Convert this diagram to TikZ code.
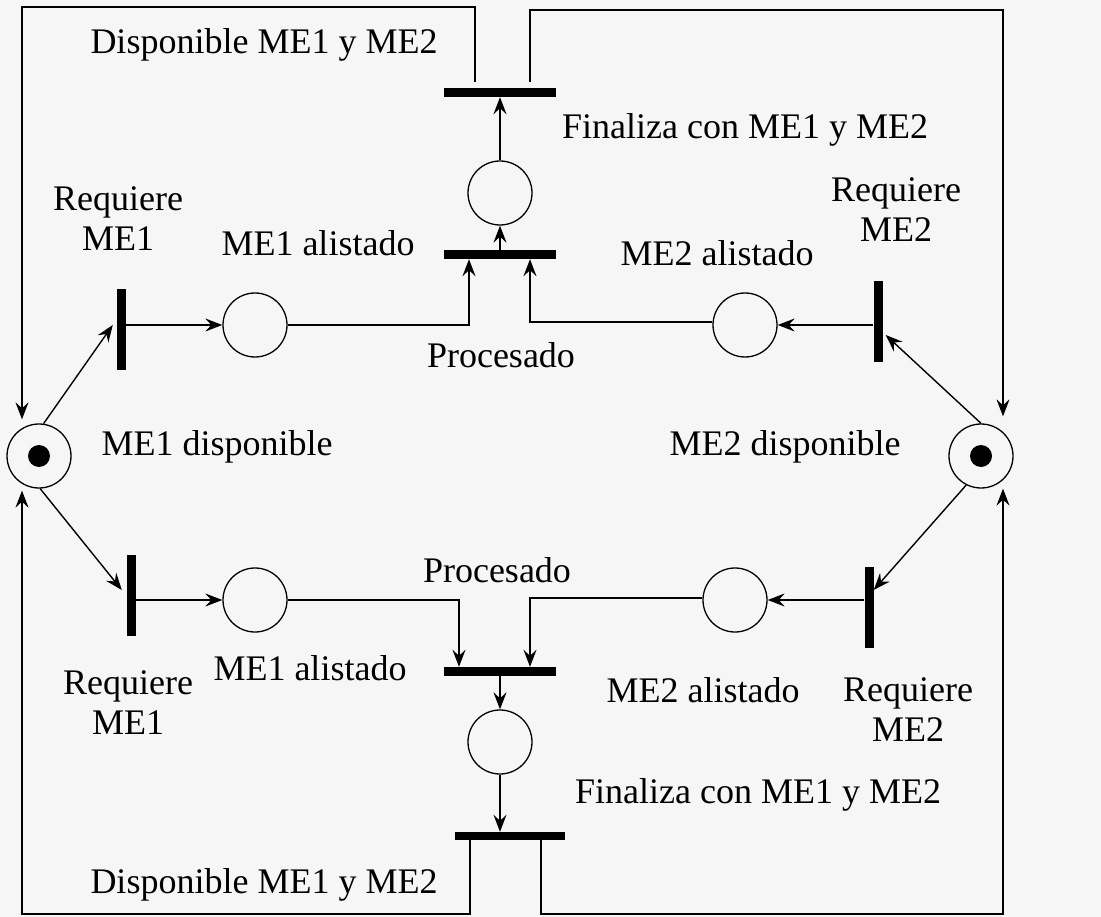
\documentclass[tikz,border=0pt]{standalone}
\usepackage{fontspec}
\setmainfont{Liberation Serif}
\usetikzlibrary{arrows.meta,calc}
\definecolor{paper}{HTML}{F6F6F6}
\tikzset{
  barb/.tip={Stealth[length=17pt,width=13pt,inset=6pt]},
}
\begin{document}
\begin{tikzpicture}[x=1pt,y=-1pt,
  every node/.style={font=\fontsize{36}{40}\selectfont},
  place/.style={circle,draw,line width=1.3pt,minimum size=64pt,inner sep=0pt},
  hbar/.style={rectangle,fill=black,minimum width=112pt,minimum height=9pt,inner sep=0pt},
  vbar/.style={rectangle,fill=black,minimum width=9pt,minimum height=81pt,inner sep=0pt},
  arcline/.style={line width=1.4pt,-barb},
  lbl/.style={inner sep=0pt,align=center}]
\fill[paper] (0,0) rectangle (1101,917);
\useasboundingbox (0,0) rectangle (1101,917);

% places
\node[place] (me1) at (39,456) {};
\node[place] (me2) at (981,456) {};
\fill (me1) circle (11);
\fill (me2) circle (11);
\node[place] (a1) at (255,325) {};
\node[place] (a2) at (745,325) {};
\node[place] (b1) at (255,600) {};
\node[place] (b2) at (735,600) {};
\node[place] (pt) at (500,193) {};
\node[place] (pb) at (500,742) {};

% transitions
\node[hbar] (tt) at (500,92.5) {};
\node[hbar] (tp1) at (500,254.5) {};
\node[hbar] (tp2) at (500,671.5) {};
\node[hbar,minimum width=110pt,minimum height=8pt] (tb) at (510,836) {};
\node[vbar] (rl1) at (121.5,330) {};
\node[vbar] (rl2) at (131.5,595) {};
\node[vbar] (rr1) at (878,322) {};
\node[vbar] (rr2) at (869,607) {};

% corner points of the return loops
\coordinate (tl) at (22,7);
\coordinate (tr) at (1003,10);
\coordinate (bl) at (22,914);
\coordinate (br) at (1003,914);

% resource places to request transitions
\draw[arcline] (me1.82) -- ([xshift=-4pt,yshift=5pt]rl1.west);
\draw[arcline] (me1.-88) -- ([xshift=-5pt,yshift=5pt]rl2.west);
\draw[arcline] (me2.north) -- ([xshift=3pt,yshift=-13pt]rr1.east);
\draw[arcline] (me2.243) -- ([yshift=17pt]rr2.east);

% request transitions to ready places
\draw[arcline] (rl1.east |- a1.west) -- (a1.west);
\draw[arcline] (rr1.west |- a2.east) -- (a2.east);
\draw[arcline] (rl2.east |- b1.west) -- (b1.west);
\draw[arcline] (rr2.west |- b2.east) -- (b2.east);

% ready places to processing transitions
\draw[arcline] (a1.east) -| ([xshift=-31pt]tp1.south);
\draw[arcline] ([yshift=3pt]a2.west) -| ([xshift=30pt]tp1.south);
\draw[arcline] (b1.east) -| ([xshift=-41pt]tp2.north);
\draw[arcline] ([yshift=2pt]b2.west) -| ([xshift=30pt]tp2.north);

% processing chains
\draw[arcline] (tp1) -- (pt);
\draw[arcline] (pt) -- (tt);
\draw[arcline] (tp2) -- (pb);
\draw[arcline] (pb.south) -- (pb.south |- tb.north);

% resources released back
\draw[arcline] ([xshift=-25pt,yshift=6pt]tt.north) |- (tl) -- ([yshift=4pt]tl |- me1.north);
\draw[arcline] ([xshift=30pt,yshift=6pt]tt.north) |- (tr) -- ([yshift=7pt]tr |- me2.north);
\draw[arcline] ([xshift=-40pt]tb.south) |- (bl) -- ([yshift=-2pt]bl |- me1.south);
\draw[arcline] ([xshift=31pt]tb.south) |- (br) -- (br |- me2.south);

% labels
\node[lbl] (l1) at (264,45) {Disponible ME1 y ME2};
\node[lbl] (l2) at (745,130) {Finaliza con ME1 y ME2};
\node[lbl] (l3) at (118,219) {Requiere\\ME1};
\node[lbl] (l4) at (318,243) {ME1 alistado};
\node[lbl] (l5) at (717,253) {ME2 alistado};
\node[lbl] (l6) at (896,210) {Requiere\\ME2};
\node[lbl] (l7) at (501,355) {Procesado};
\node[lbl] (l8) at (217,447) {ME1 disponible};
\node[lbl] (l9) at (785,447) {ME2 disponible};
\node[lbl] (l10) at (497,570) {Procesado};
\node[lbl] (l11) at (128,703) {Requiere\\ME1};
\node[lbl] (l12) at (310,668) {ME1 alistado};
\node[lbl] (l13) at (703,690) {ME2 alistado};
\node[lbl] (l14) at (908,710) {Requiere\\ME2};
\node[lbl] (l15) at (758,795) {Finaliza con ME1 y ME2};
\node[lbl] (l16) at (264,885) {Disponible ME1 y ME2};
\end{tikzpicture}
\end{document}
